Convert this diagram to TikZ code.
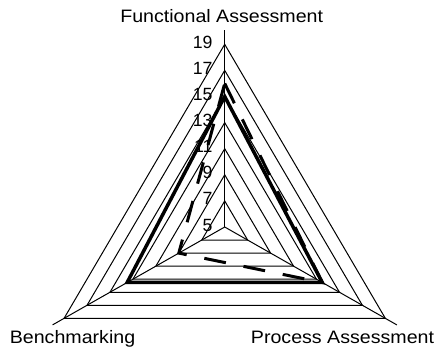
\documentclass[tikz,border=0pt]{standalone}
\usepackage{fontspec}
\setmainfont{Liberation Sans}
\usepackage{graphicx}
\tikzset{
  gridline/.style={line width=1pt, black},
  axisline/.style={line width=1pt, black},
  seriessolid/.style={line width=3.5pt, black, line join=miter},
  seriesdash/.style={line width=3pt, black, line join=miter, dash pattern=on 22pt off 18pt},
  titletext/.style={font=\fontsize{18}{20}\selectfont, inner sep=0pt, anchor=base},
  valtext/.style={font=\fontsize{17.7}{20}\selectfont, inner sep=0pt, anchor=base east},
}
\begin{document}
\begin{tikzpicture}[x=1pt,y=-1pt]
\useasboundingbox (0,0) rectangle (438,351);
% value labels
\foreach \i in {0,...,7}{
  \pgfmathsetmacro{\vy}{231-26.1*\i}
  \pgfmathtruncatemacro{\vv}{5+2*\i}
  \node[valtext] (val\i) at (212.7,\vy) {\vv};
}
% titles
\node[titletext] (fa) at (221.7,22.7) {\scalebox{1.09}[1]{Functional Assessment}};
\node[titletext] (bm) at (72.5,343.3) {\scalebox{1.09}[1]{Benchmarking}};
\node[titletext] (pa) at (342.5,343.3) {\scalebox{1.09}[1]{Process Assessment}};
\begin{scope}[shift={(224.7,227)}, x=26.5pt, y=26.1pt]
  \coordinate (c) at (0,0);
  \coordinate (axT) at (90:7.55);
  \coordinate (axR) at (-30:7.5);
  \coordinate (axL) at (210:7.5);
  % grid rings
  \foreach \r in {1,...,7}{
    \draw[gridline] (90:\r) -- (-30:\r) -- (210:\r) -- cycle;
  }
  % axes
  \draw[axisline] (c) -- (axT);
  \draw[axisline] (c) -- (axR);
  \draw[axisline] (c) -- (axL);
  % series 1 (solid)
  \coordinate (sT) at (90:5);
  \coordinate (sR) at (-30:4.25);
  \coordinate (sL) at (210:4.25);
  \draw[seriessolid] (sT) -- (sR) -- (sL) -- cycle;
  % series 2 (dashed)
  \coordinate (dT) at (90:5.5);
  \coordinate (dR) at (-30:4.25);
  \coordinate (dL) at (210:2);
  \draw[seriesdash] (dT) -- (dR) -- (dL) -- cycle;
\end{scope}
\end{tikzpicture}
\end{document}
